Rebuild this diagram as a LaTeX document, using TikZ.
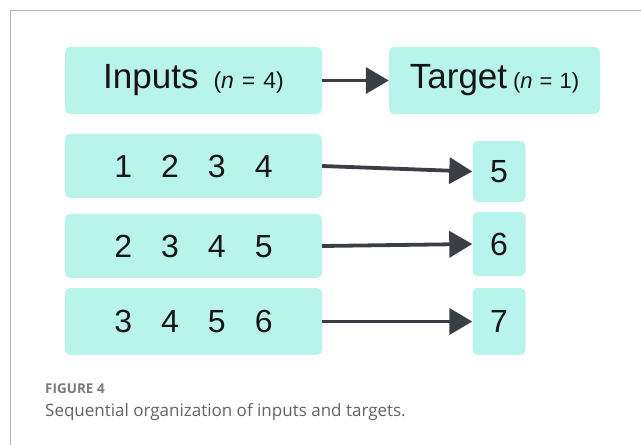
\documentclass[tikz,border=0pt]{standalone}
\usepackage{fontspec}
\setmainfont{Liberation Sans}
\newfontfamily\capfont{Open Sans}
\usetikzlibrary{arrows.meta}

\definecolor{boxfill}{HTML}{B8F4EB}
\definecolor{arrowgray}{HTML}{3A3F45}
\definecolor{framegray}{HTML}{B4B4B4}
\definecolor{captiongray}{HTML}{636363}
\definecolor{labelink}{HTML}{151515}

\begin{document}
\begin{tikzpicture}[x=1pt,y=-1pt,
  box/.style={fill=boxfill, rounded corners=5pt, inner sep=0pt, text=labelink},
  wide/.style={box, minimum width=257pt},
  small/.style={box, minimum width=53pt},
  link/.style={draw=arrowgray, line width=3.8pt,
    -{Triangle[length=23pt,width=26pt]}},
  bigfont/.style={font=\fontsize{35}{40}\selectfont},
  digitfont/.style={font=\fontsize{32}{36}\selectfont},
]
\useasboundingbox (0,0) rectangle (641,445);

% page frame
\draw[framegray, line width=1pt] (641,10.5) -- (10.5,10.5) -- (10.5,445);

% header row
\node[wide, bigfont, minimum height=67pt] (inhead) at (193.5,80.5)
  {Inputs\hspace{15pt}{\fontsize{23}{26}\selectfont(\textit{n}\hspace{8pt}=\hspace{8pt}4)}};
\node[box, bigfont, minimum width=211pt, minimum height=67pt] (tghead) at (494.5,80.5)
  {Target\hspace{6pt}{\fontsize{22}{26}\selectfont(\textit{n}\hspace{7pt}=\hspace{7pt}1)}};
\draw[link] (inhead.east) -- (tghead.west);

% input windows
\node[wide, digitfont, minimum height=64pt] (in1) at (193.5,166)
  {1\hspace{29pt}2\hspace{29pt}3\hspace{29pt}4};
\node[wide, digitfont, minimum height=64pt] (in2) at (193.5,246)
  {2\hspace{29pt}3\hspace{29pt}4\hspace{29pt}5};
\node[wide, digitfont, minimum height=67pt] (in3) at (193.5,321.5)
  {3\hspace{29pt}4\hspace{29pt}5\hspace{29pt}6};

% targets
\node[small, digitfont, minimum height=61pt] (t1) at (499,171.5) {5};
\node[small, digitfont, minimum height=64pt] (t2) at (499,244) {6};
\node[small, digitfont, minimum height=67pt] (t3) at (499,321.5) {7};

\draw[link] (in1.east) -- (t1.west);
\draw[link] (in2.east) -- (t2.west);
\draw[link] (in3.east) -- (t3.west);

% caption
\node[anchor=base west, inner sep=0pt, text=captiongray!85,
  font=\capfont\fontsize{13.5}{15}\selectfont\bfseries] (fignum) at (45,393) {FIGURE 4};
\node[anchor=base west, inner sep=0pt, text=captiongray,
  font=\capfont\fontsize{17}{20}\selectfont] (figcap) at (45,416)
  {Sequential organization of inputs and targets.};
\end{tikzpicture}
\end{document}
